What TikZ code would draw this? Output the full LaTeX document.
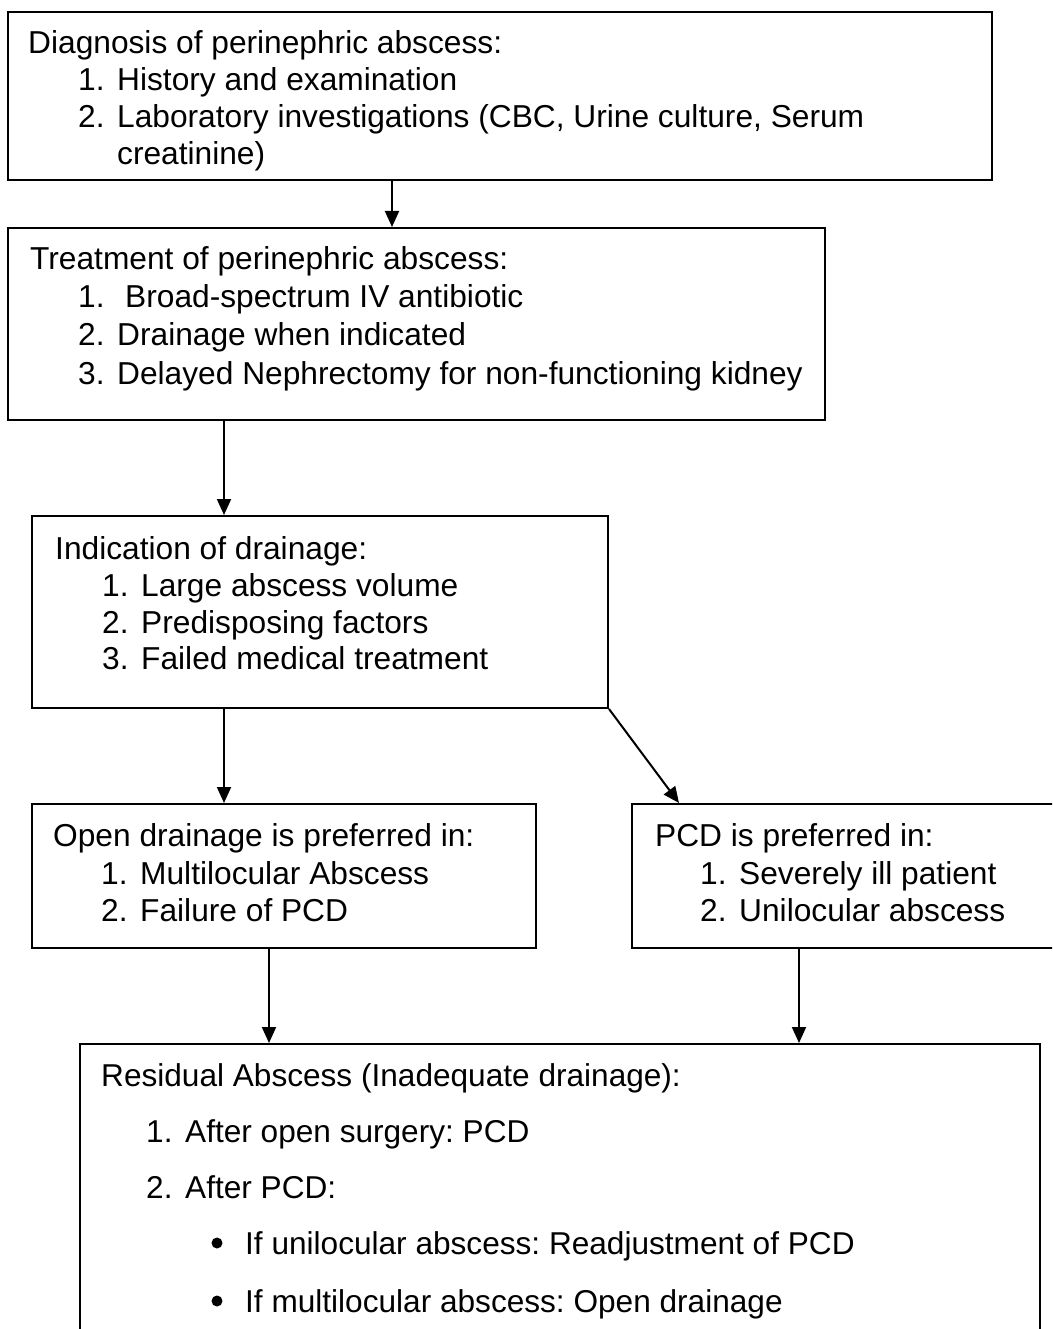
\documentclass[tikz,border=0pt]{standalone}
\usepackage{fontspec}
\setmainfont{Liberation Sans}
\usepackage{xcolor}
\usepackage{tikz}
\usetikzlibrary{arrows.meta,calc}
\definecolor{ink}{HTML}{000000}
\tikzset{
  box/.style={draw=ink,line width=2pt,rectangle,inner sep=0pt},
  flow/.style={-{Triangle[length=16pt,width=14pt]},line width=2pt,draw=ink},
  head/.style={anchor=base west,inner sep=0pt,text=ink,
    font=\fontsize{31.7}{37}\selectfont\frenchspacing},
  itm/.style={head},
  itmr/.style={head,font=\fontsize{31.6}{37}\selectfont\frenchspacing},
  dot/.style={circle,fill=ink,inner sep=0pt,minimum size=11pt},
}
\newcommand\numitem[2]{\makebox[39pt][l]{#1}#2}

\begin{document}
\begin{tikzpicture}[x=1pt,y=-1pt]
  \useasboundingbox (0,0) rectangle (1052,1329);
  \clip (0,0) rectangle (1052,1329);
  % boxes
  \node[box,minimum width=984pt,minimum height=168pt](diag) at (500,96){};
  \node[box,minimum width=817pt,minimum height=192pt](treat) at (416.5,324){};
  \node[box,minimum width=576pt,minimum height=192pt](ind) at (320,612){};
  \node[box,minimum width=504pt,minimum height=144pt](open) at (284,876){};
  \node[box,minimum width=448pt,minimum height=144pt](pcd) at (856,876){};
  \node[box,minimum width=960pt,minimum height=316pt](resid) at (560,1202){};
  % texts
  \node[head](diag0) at (28,54){Diagnosis of perinephric abscess:};
  \node[itm](diag1) at (78,91){\numitem{1.}{History and examination}};
  \node[itm](diag2) at (78,128){\numitem{2.}{Laboratory investigations (CBC, Urine culture, Serum}};
  \node[itm](diag3) at (117,165){creatinine)};
  \node[head](treat0) at (30,270){Treatment of perinephric abscess:};
  \node[itm](treat1) at (78,307){\numitem{1.}{\hspace{8pt}Broad-spectrum IV antibiotic}};
  \node[itm](treat2) at (78,345){\numitem{2.}{Drainage when indicated}};
  \node[itm](treat3) at (78,384){\numitem{3.}{Delayed Nephrectomy for non-functioning kidney}};
  \node[head](ind0) at (55,559){Indication of drainage:};
  \node[itm](ind1) at (102,596){\numitem{1.}{Large abscess volume}};
  \node[itm](ind2) at (102,633){\numitem{2.}{Predisposing factors}};
  \node[itm](ind3) at (102,669){\numitem{3.}{Failed medical treatment}};
  \node[head](open0) at (53,846){Open drainage is preferred in:};
  \node[itm](open1) at (101,884){\numitem{1.}{Multilocular Abscess}};
  \node[itm](open2) at (101,921){\numitem{2.}{Failure of PCD}};
  \node[head](pcd0) at (655,846){PCD is preferred in:};
  \node[itm](pcd1) at (700,884){\numitem{1.}{Severely ill patient}};
  \node[itm](pcd2) at (700,921){\numitem{2.}{Unilocular abscess}};
  \node[itmr](resid0) at (101,1086){Residual Abscess (Inadequate drainage):};
  \node[itmr](resid1) at (146,1142){\numitem{1.}{After open surgery: PCD}};
  \node[itmr](resid2) at (146,1198){\numitem{2.}{After PCD:}};
  \node[dot](dot1) at (217,1243){};
  \node[itmr](resid3) at (245,1254){If unilocular abscess: Readjustment of PCD};
  \node[dot](dot2) at (217,1301){};
  \node[itmr](resid4) at (245,1312){If multilocular abscess: Open drainage};
  % arrows
  \coordinate (c1) at ([xshift=385pt]diag.south west);
  \coordinate (c2) at ([xshift=217pt]treat.south west);
  \coordinate (c3) at ([xshift=193pt]ind.south west);
  \coordinate (c4) at ([xshift=238pt]open.south west);
  \coordinate (c5) at ([xshift=168pt]pcd.south west);
  \draw[flow](c1)--(c1 |- treat.north);
  \draw[flow](c2)--(c2 |- ind.north);
  \draw[flow](c3)--(c3 |- open.north);
  \draw[flow](ind.south east)--([xshift=48pt]pcd.north west);
  \draw[flow](c4)--(c4 |- resid.north);
  \draw[flow](c5)--(c5 |- resid.north);
\end{tikzpicture}
\end{document}
